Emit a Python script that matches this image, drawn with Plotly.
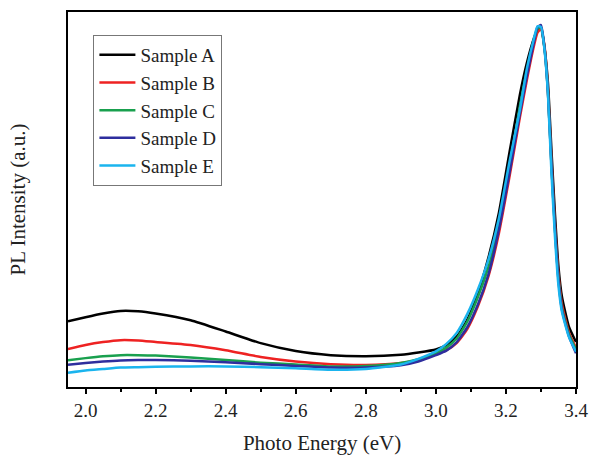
import plotly.graph_objects as go

energy = [1.95, 2.0, 2.05, 2.1, 2.15, 2.2, 2.3, 2.4, 2.5, 2.6, 2.7, 2.8, 2.9, 2.95,
          3.0, 3.03, 3.06, 3.09, 3.12, 3.15, 3.18, 3.21, 3.24, 3.26, 3.28, 3.29,
          3.3, 3.31, 3.32, 3.33, 3.34, 3.35, 3.36, 3.38, 3.4]

sample_a = [0.175, 0.186, 0.196, 0.203, 0.202, 0.196, 0.178, 0.148, 0.117, 0.096, 0.085, 0.082, 0.086, 0.092,
            0.100, 0.112, 0.135, 0.180, 0.250, 0.345, 0.465, 0.625, 0.780, 0.865, 0.930, 0.952,
            0.955, 0.905, 0.810, 0.630, 0.460, 0.320, 0.240, 0.160, 0.120]
sample_b = [0.101, 0.112, 0.120, 0.125, 0.124, 0.120, 0.112, 0.098, 0.080, 0.068, 0.061, 0.059, 0.064, 0.072,
            0.088, 0.098, 0.118, 0.155, 0.215, 0.295, 0.410, 0.560, 0.720, 0.820, 0.910, 0.945,
            0.955, 0.910, 0.790, 0.600, 0.430, 0.300, 0.220, 0.145, 0.105]
sample_c = [0.071, 0.077, 0.082, 0.085, 0.085, 0.084, 0.079, 0.072, 0.065, 0.060, 0.055, 0.056, 0.064, 0.074,
            0.090, 0.105, 0.130, 0.175, 0.240, 0.320, 0.430, 0.580, 0.750, 0.845, 0.925, 0.955,
            0.960, 0.905, 0.785, 0.590, 0.420, 0.290, 0.210, 0.140, 0.100]
sample_d = [0.059, 0.064, 0.068, 0.071, 0.072, 0.072, 0.070, 0.066, 0.061, 0.056, 0.052, 0.052, 0.058, 0.068,
            0.085, 0.097, 0.120, 0.160, 0.220, 0.300, 0.420, 0.570, 0.730, 0.830, 0.920, 0.960,
            0.965, 0.905, 0.785, 0.590, 0.420, 0.285, 0.205, 0.135, 0.090]
sample_e = [0.038, 0.044, 0.048, 0.052, 0.053, 0.054, 0.055, 0.055, 0.053, 0.050, 0.046, 0.048, 0.060, 0.075,
            0.095, 0.115, 0.145, 0.195, 0.260, 0.340, 0.450, 0.600, 0.740, 0.850, 0.930, 0.962,
            0.960, 0.900, 0.780, 0.570, 0.400, 0.270, 0.200, 0.133, 0.094]

names = ["Sample A", "Sample B", "Sample C", "Sample D", "Sample E"]
series = [sample_a, sample_b, sample_c, sample_d, sample_e]
colors = ["#000000", "#ee2222", "#19a04e", "#2e2e9e", "#1ab4ee"]

tick_vals = [2.0, 2.2, 2.4, 2.6, 2.8, 3.0, 3.2, 3.4]
tick_text = ["2.0", "2.2", "2.4", "2.6", "2.8", "3.0", "3.2", "3.4"]

fig = go.Figure()
for name, ys, col in zip(names, series, colors):
    fig.add_trace(go.Scatter(x=energy, y=ys, mode="lines", name=name,
                             line=dict(color=col, width=2.5, shape="spline", smoothing=0.5)))

font_family = "Liberation Serif, Times New Roman, serif"
fig.update_layout(
    width=595, height=459,
    margin=dict(l=68, r=19, t=12, b=72, autoexpand=False),
    paper_bgcolor="white", plot_bgcolor="white",
    font=dict(family=font_family, size=18, color="#222222"),
    showlegend=True,
    legend=dict(x=0.05, y=0.939, xanchor="left", yanchor="top",
                bgcolor="white", bordercolor="#777777", borderwidth=1,
                font=dict(family=font_family, size=19, color="#222222"),
                itemwidth=36, tracegroupgap=0),
)
fig.update_xaxes(range=[1.95, 3.4], tickvals=tick_vals, ticktext=tick_text,
                 automargin=False,
                 ticks="outside", ticklen=5, tickwidth=1.5, tickcolor="black",
                 minor=dict(ticks="outside", ticklen=3, tickwidth=1.5, tickcolor="black",
                            tick0=2.1, dtick=0.2),
                 showline=True, linewidth=2, linecolor="black", mirror=True,
                 showgrid=False, zeroline=False,
                 tickfont=dict(family=font_family, size=19, color="#222222"),
                 title=dict(text="Photo Energy (eV)", standoff=16,
                            font=dict(family=font_family, size=21, color="#222222")))
fig.update_yaxes(range=[0, 1], showticklabels=False, ticks="",
                 automargin=False,
                 showline=True, linewidth=2, linecolor="black", mirror=True,
                 showgrid=False, zeroline=False,
                 title=dict(text="PL Intensity (a.u.)", standoff=35,
                            font=dict(family=font_family, size=21, color="#222222")))

fig.write_html("out.html", config={"displayModeBar": False},
               post_script="document.body.style.margin='0px';")
